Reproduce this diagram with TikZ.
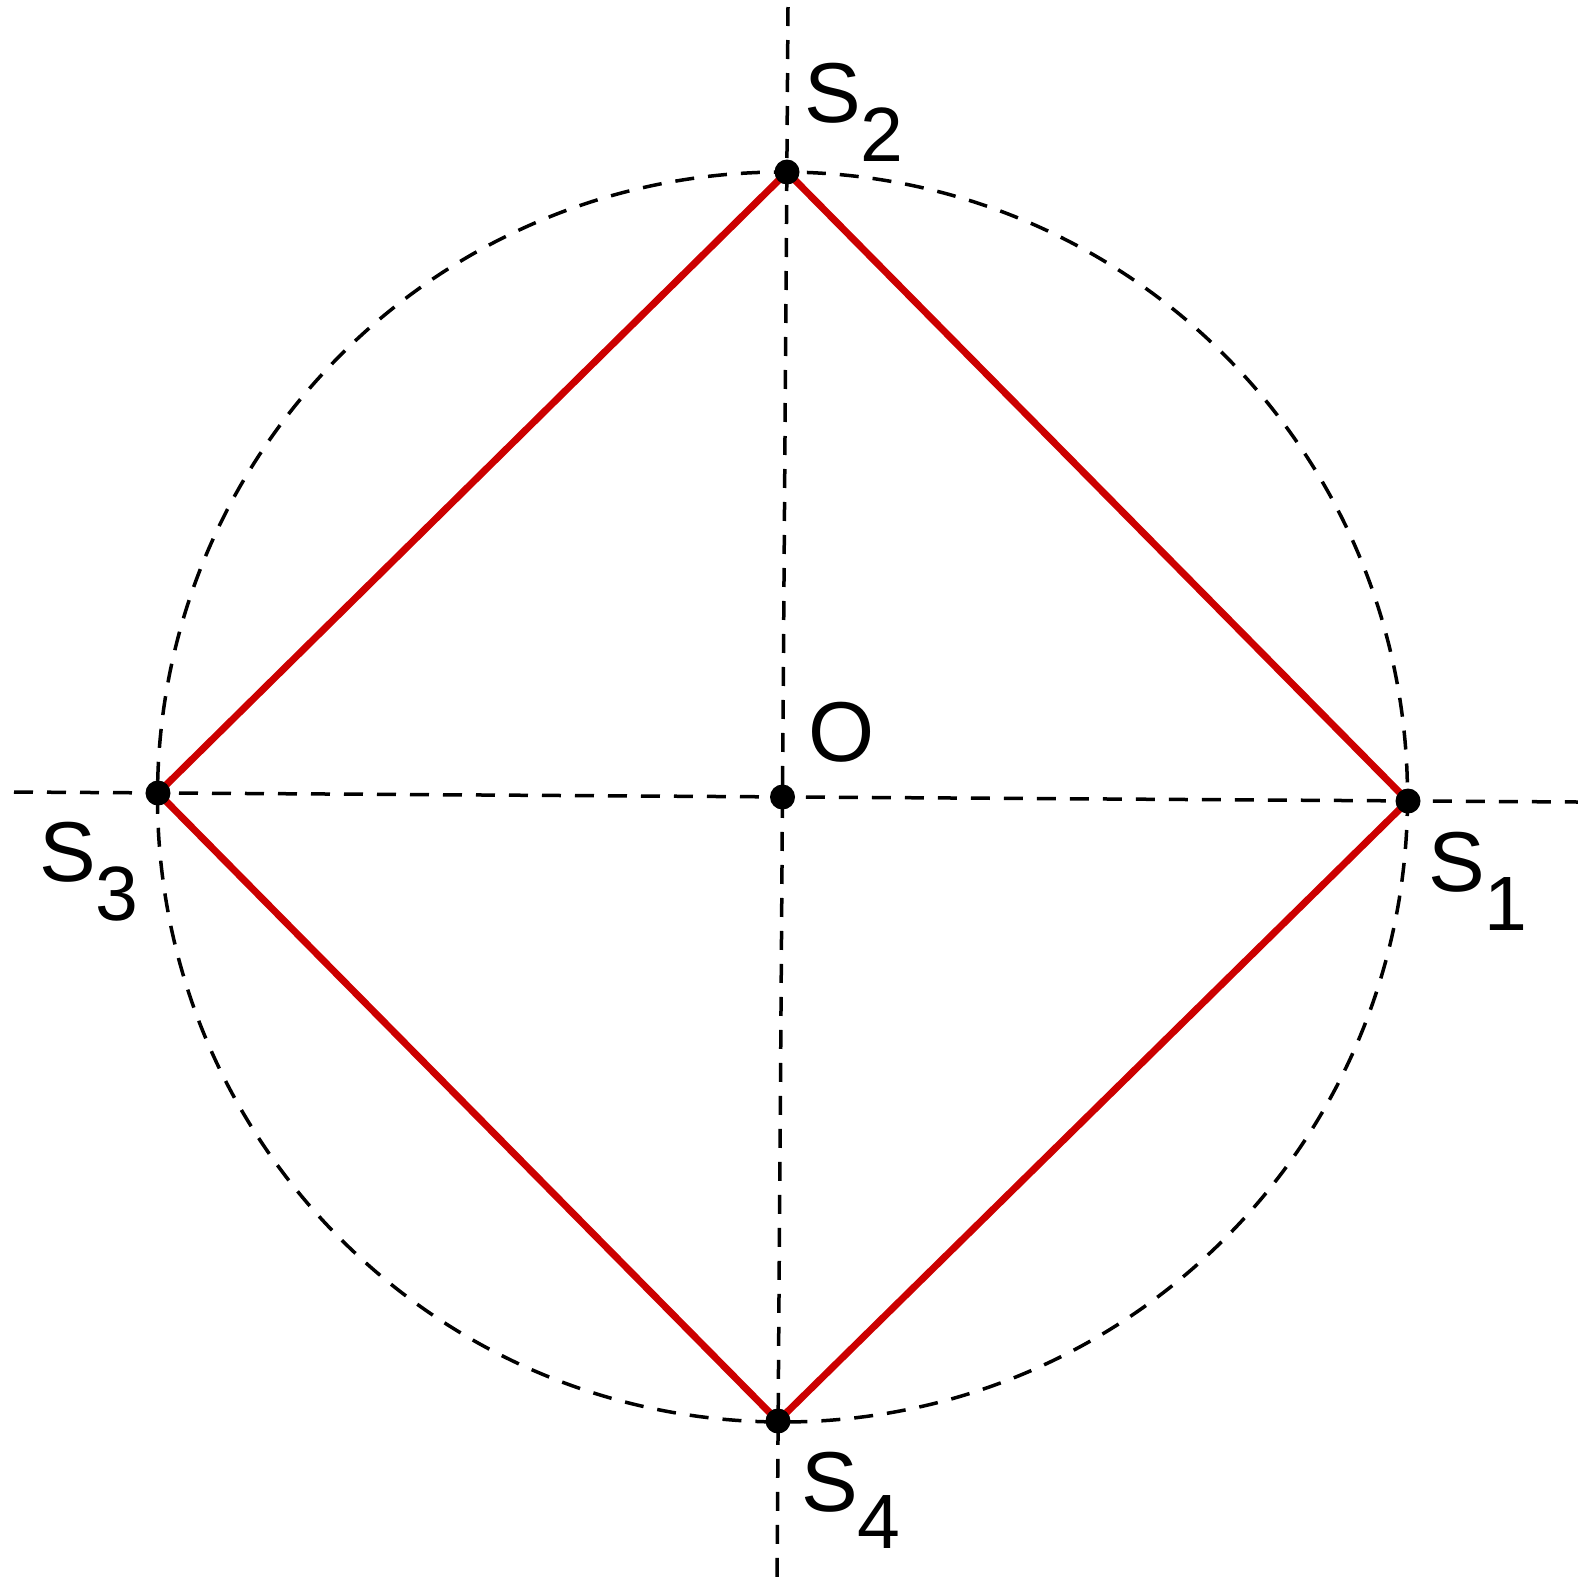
\documentclass[tikz,border=0pt]{standalone}
\usepackage{fontspec}
\setmainfont{Liberation Sans}
\definecolor{redc}{RGB}{204,0,0}
\begin{document}
\begin{tikzpicture}[x=1pt,y=-1pt,
  axisline/.style={line width=3.5pt, dash pattern=on 19pt off 14pt},
  side/.style={line width=7pt, draw=redc, line join=round},
  dot/.style={circle, fill=black, inner sep=0pt, minimum size=25pt},
  lbl/.style={inner sep=0pt, anchor=base west, font=\fontsize{85}{100}\selectfont},
  subs/.style={}]
\useasboundingbox (0,0) rectangle (1578,1583);
% points
\coordinate (s1) at (1408,801);
\coordinate (s2) at (787,172);
\coordinate (s3) at (158,793);
\coordinate (s4) at (778,1421);
\coordinate (o) at (782.5,797);
% axis ends
\coordinate (vtop) at (788,7);
\coordinate (vbot) at (777,1583);
\coordinate (hleft) at (14,792);
\coordinate (hright) at (1578,802);
% axes and circle
\draw[axisline] (vtop) -- (vbot);
\draw[axisline] (hleft) -- (hright);
\draw[axisline] (o) circle[radius=625];
% square
\draw[side] (s1) -- (s2) -- (s3) -- (s4) -- cycle;
% dots
\node[dot] (d1) at (s1) {};
\node[dot] (d2) at (s2) {};
\node[dot] (d3) at (s3) {};
\node[dot] (d4) at (s4) {};
\node[dot] (d0) at (o) {};
% labels
\node[lbl] (l2) at (804,122) {S\raisebox{-39pt}{\fontsize{77}{90}\selectfont 2}};
\node[lbl] (l1) at (1428,891) {S\raisebox{-39pt}{\fontsize{77}{90}\selectfont 1}};
\node[lbl] (l3) at (39,881) {S\raisebox{-39pt}{\fontsize{77}{90}\selectfont 3}};
\node[lbl] (l4) at (801,1511) {S\raisebox{-37pt}{\fontsize{77}{90}\selectfont 4}};
\node[lbl] (lo) at (808,761) {O};
\end{tikzpicture}
\end{document}
